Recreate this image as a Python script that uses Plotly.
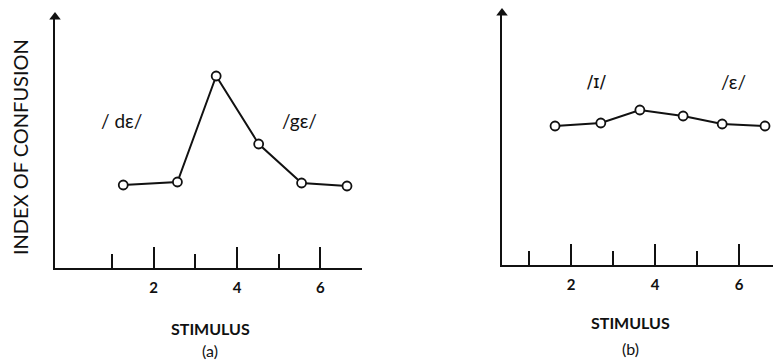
import plotly.graph_objects as go

# Stimulus positions and confusion index for the two continua
stim_a = [1.27, 2.57, 3.5, 4.52, 5.55, 6.64]
conf_a = [3.32, 3.44, 7.68, 4.96, 3.4, 3.28]

stim_b = [1.62, 2.71, 3.64, 4.67, 5.6, 6.62]
conf_b = [5.56, 5.68, 6.2, 5.96, 5.64, 5.56]

major_ticks = [2, 4, 6]
minor_ticks = [1, 3, 5, 7]
tick_labels = ["2", "4", "6"]

FONT = "Lato"
INK = "#111111"
W, H = 773, 362

fig = go.Figure()

line_style = dict(color=INK, width=2)
marker_style = dict(size=9, color="white", line=dict(color=INK, width=1.8), symbol="circle")

fig.add_trace(go.Scatter(x=stim_a, y=conf_a, mode="lines+markers",
                         line=line_style, marker=marker_style,
                         xaxis="x", yaxis="y", showlegend=False, cliponaxis=False))
fig.add_trace(go.Scatter(x=stim_b, y=conf_b, mode="lines+markers",
                         line=line_style, marker=marker_style,
                         xaxis="x2", yaxis="y2", showlegend=False, cliponaxis=False))


def px_x(p):
    return p / W


def px_y(p):
    return (H - p) / H


def xaxis_cfg(dom, rng):
    return dict(
        domain=dom, range=rng, showgrid=False, zeroline=False,
        showline=True, linecolor=INK, linewidth=2,
        tickmode="array", tickvals=major_ticks, ticktext=tick_labels,
        ticks="inside", ticklen=21, tickwidth=2, tickcolor=INK,
        ticklabelstandoff=5,
        tickfont=dict(family=FONT, size=15, color=INK, weight="bold"),
        minor=dict(tickvals=minor_ticks, ticks="inside", ticklen=14,
                   tickwidth=2, tickcolor=INK, showgrid=False),
        fixedrange=True,
    )


def yaxis_cfg(dom, rng, anchor):
    return dict(
        domain=dom, range=rng, showgrid=False, zeroline=False,
        showline=True, linecolor=INK, linewidth=2,
        showticklabels=False, ticks="", anchor=anchor, fixedrange=True,
    )


ya_top = 10.04
yb_top = 10.08

fig.update_layout(
    width=W, height=H,
    margin=dict(l=0, r=0, t=0, b=0),
    paper_bgcolor="white", plot_bgcolor="white",
    xaxis=xaxis_cfg([px_x(55), px_x(362)], [-0.368, 7.0]) | dict(anchor="y"),
    yaxis=yaxis_cfg([px_y(268), px_y(17)], [0, ya_top], "x"),
    xaxis2=xaxis_cfg([px_x(502), 1.0], [0.357, 6.81]) | dict(anchor="y2"),
    yaxis2=yaxis_cfg([px_y(265), px_y(13)], [0, yb_top], "x2"),
)

# Arrowheads at the top of each vertical axis
fig.add_trace(go.Scatter(x=[-0.368], y=[ya_top], mode="markers", xaxis="x", yaxis="y",
                         marker=dict(symbol="triangle-up", size=10, color=INK),
                         showlegend=False, cliponaxis=False, hoverinfo="skip"))
fig.add_trace(go.Scatter(x=[0.357], y=[yb_top], mode="markers", xaxis="x2", yaxis="y2",
                         marker=dict(symbol="triangle-up", size=10, color=INK),
                         showlegend=False, cliponaxis=False, hoverinfo="skip"))


def label(text, px, py, size, angle=0, family=FONT, weight="normal"):
    return dict(text=text, xref="paper", yref="paper", x=px_x(px), y=px_y(py),
                xanchor="center", yanchor="middle", textangle=angle,
                showarrow=False,
                font=dict(family=family, color=INK, size=size, weight=weight))


annotations = [
    label("INDEX OF CONFUSION", 20, 147, 20, angle=-90),
    label("STIMULUS", 211, 328, 16, weight="bold"),
    label("(a)", 210, 350, 16),
    label("STIMULUS", 630, 322, 16, weight="bold"),
    label("(b)", 630, 348, 16),
    label("/ dε/", 121, 120, 19),
    label("/gε/", 299, 120, 19),
    label("/ɪ/", 597, 82, 18, family="DejaVu Sans"),
    label("/ε/", 733, 82, 19),
]
fig.update_layout(annotations=annotations)

fig.write_html("out.html")
